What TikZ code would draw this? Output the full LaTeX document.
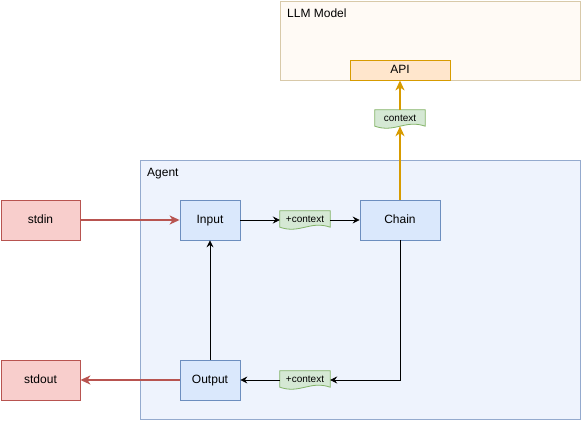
\documentclass[tikz,border=0pt]{standalone}
\usepackage{fontspec}
\setmainfont{Liberation Sans}
\usetikzlibrary{arrows.meta,positioning}
\definecolor{unitfill}{HTML}{DAE8FC}
\definecolor{unitline}{HTML}{6C8EBF}
\definecolor{iofill}{HTML}{F8CECC}
\definecolor{ioline}{HTML}{B85450}
\definecolor{ctxfill}{HTML}{D5E8D4}
\definecolor{ctxline}{HTML}{82B366}
\definecolor{apifill}{HTML}{FFE6CC}
\definecolor{apiline}{HTML}{D79B00}
\definecolor{llmfill}{HTML}{FFFAF5}
\definecolor{llmline}{HTML}{D8C9A9}
\definecolor{agentfill}{HTML}{EEF3FD}
\definecolor{agentline}{HTML}{94AACE}
\pgfdeclarelayer{back}
\pgfdeclarelayer{mid}
\pgfsetlayers{back,mid,main}
\tikzset{
	unit/.style={draw=unitline,fill=unitfill,minimum width=60pt,minimum height=40pt,inner sep=0pt,line width=0.8pt},
	io/.style={draw=ioline,fill=iofill,minimum width=79pt,minimum height=40pt,inner sep=0pt,line width=0.8pt},
	ctx/.style={minimum width=50pt,minimum height=16pt,inner sep=0pt,font=\fontsize{10}{11}\selectfont},
	flow/.style={-{Stealth[length=7pt,width=7pt,inset=2.5pt]},line width=0.8pt},
	feed/.style={-{Stealth[length=10pt,width=9pt,inset=3pt]},draw=ioline,line width=2pt},
	call/.style={-{Stealth[length=10pt,width=9pt,inset=3pt]},draw=apiline,line width=2pt},
}
\begin{document}
\begin{tikzpicture}[x=1pt,y=-1pt,font=\fontsize{12}{14}\selectfont,text height=0.9em,text depth=0.2em]
		\useasboundingbox (0,0) rectangle (582,422);
		% containers
		\begin{pgfonlayer}{back}
		\node[draw=llmline,fill=llmfill,line width=0.8pt,minimum width=300pt,minimum height=79pt] (llm) at (430.5,40.5) {};
		\node[draw=agentline,fill=agentfill,line width=0.8pt,minimum width=440pt,minimum height=259pt] (agent) at (360.5,290) {};
		\end{pgfonlayer}
		\node[anchor=west,inner sep=0pt] (llmlabel) at (287,14) {LLM Model};
		\node[anchor=west,inner sep=0pt] (agentlabel) at (147,173) {Agent};
		% boxes
		\node[draw=apiline,fill=apifill,line width=0.8pt,minimum width=100pt,minimum height=20pt,inner sep=0pt] (API) at (400,70) {API};
		\node[ctx] (ctx0) at (400,118) {context};
		\node[io] (stdin) at (40.5,220) {stdin};
		\node[unit] (Input) at (210,220) {Input};
		\node[ctx] (ctx1) at (305,219) {+context};
		\node[unit,minimum width=80pt] (Chain) at (400,220) {Chain};
		\node[io] (stdout) at (40.5,380) {stdout};
		\node[unit] (Output) at (210,380) {Output};
		\node[ctx] (ctx2) at (305,379) {+context};
		% wavy documents
		\begin{pgfonlayer}{mid}
		\foreach \d in {ctx0,ctx1,ctx2}
			\draw[ctxline,fill=ctxfill,line width=0.8pt] (\d.north west) -- (\d.north east) -- (\d.south east)
				.. controls +(-20,-7) and +(20,7) .. (\d.south west) -- cycle;
		\end{pgfonlayer}
		% connectors
		\draw[feed] (stdin) -- (Input);
		\draw[flow] (Input) -- (Input -| ctx1.west);
		\draw[flow] (ctx1.east |- Chain) -- (Chain);
		\draw[call] (Chain) -- (ctx0);
		\draw[call] (ctx0) -- (API);
		\draw[flow] (Chain.south) |- (ctx2.east |- Output);
		\draw[flow] (ctx2.west |- Output) -- (Output);
		\draw[flow] (Output) -- (Input);
		\draw[feed] (Output) -- (stdout);
		
		\end{tikzpicture}
\end{document}
